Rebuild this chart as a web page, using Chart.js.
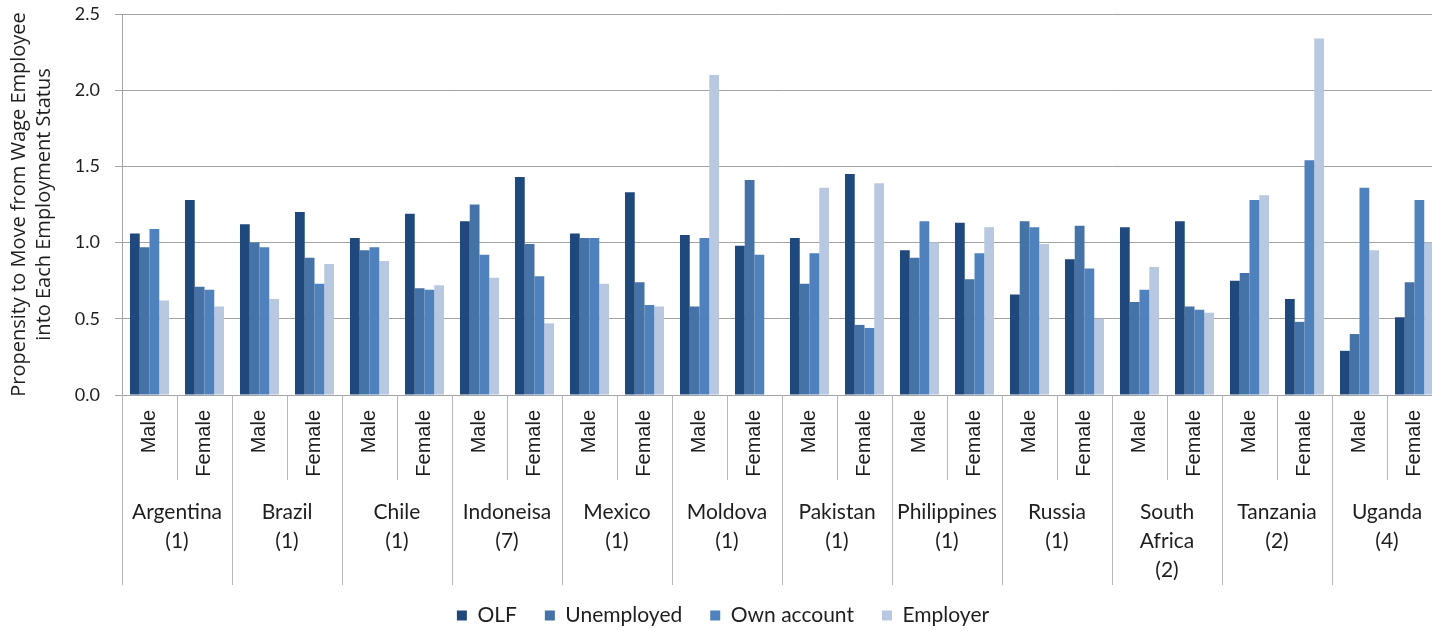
<!DOCTYPE html>
<html>
<head>
<meta charset="utf-8">
<script src="https://cdn.jsdelivr.net/npm/chart.js@4.4.1/dist/chart.umd.min.js"></script>
<style>
  html, body { margin: 0; padding: 0; background: #fff; overflow: hidden; }
  #wrap { position: relative; width: 1456px; height: 631px; }
</style>
</head>
<body>
<div id="wrap"><canvas id="chart"></canvas></div>
<script>
// Countries (number of studies in brackets) and the two genders per country
const countryLabels = [
  ['Argentina', '(1)'], ['Brazil', '(1)'], ['Chile', '(1)'], ['Indoneisa', '(7)'],
  ['Mexico', '(1)'], ['Moldova', '(1)'], ['Pakistan', '(1)'], ['Philippines', '(1)'],
  ['Russia', '(1)'], ['South', 'Africa', '(2)'], ['Tanzania', '(2)'], ['Uganda', '(4)']
];
const genders = ['Male', 'Female'];

// values per category, in order Argentina Male, Argentina Female, Brazil Male, ...
const olf        = [1.06, 1.28, 1.12, 1.20, 1.03, 1.19, 1.14, 1.43, 1.06, 1.33, 1.05, 0.98,
                    1.03, 1.45, 0.95, 1.13, 0.66, 0.89, 1.10, 1.14, 0.75, 0.63, 0.29, 0.51];
const unemployed = [0.97, 0.71, 1.00, 0.90, 0.95, 0.70, 1.25, 0.99, 1.03, 0.74, 0.58, 1.41,
                    0.73, 0.46, 0.90, 0.76, 1.14, 1.11, 0.61, 0.58, 0.80, 0.48, 0.40, 0.74];
const ownAccount = [1.09, 0.69, 0.97, 0.73, 0.97, 0.69, 0.92, 0.78, 1.03, 0.59, 1.03, 0.92,
                    0.93, 0.44, 1.14, 0.93, 1.10, 0.83, 0.69, 0.56, 1.28, 1.54, 1.36, 1.28];
const employer   = [0.62, 0.58, 0.63, 0.86, 0.88, 0.72, 0.77, 0.47, 0.73, 0.58, 2.10, null,
                    1.36, 1.39, 1.00, 1.10, 0.99, 0.50, 0.84, 0.54, 1.31, 2.34, 0.95, 1.00];

const yTicks = [0, 0.5, 1.0, 1.5, 2.0, 2.5];

const labels = [];
countryLabels.forEach(c => genders.forEach(g => labels.push(c.join(' ') + ' ' + g)));

const GRID = '#a3a3a3';
const SEP = '#b8b8b8';
const TEXT = '#1e1e1e';

// draws Male/Female (rotated) + country names and the separator lines under the axis
const groupAxis = {
  id: 'groupAxis',
  afterDraw(chart) {
    const ctx = chart.ctx;
    const x = chart.scales.x;
    const base = x.top;
    const n = labels.length;
    const edge = i => {
      if (i <= 0) return x.left;
      if (i >= n) return x.right;
      return (x.getPixelForValue(i - 1) + x.getPixelForValue(i)) / 2;
    };
    ctx.save();
    ctx.strokeStyle = SEP;
    ctx.lineWidth = 1;
    for (let i = 0; i <= n; i++) {
      const px = Math.round(edge(i)) + 0.5;
      const len = (i % 2 === 0) ? 190 : 85;
      ctx.beginPath();
      ctx.moveTo(px, base);
      ctx.lineTo(px, base + len);
      ctx.stroke();
    }
    ctx.fillStyle = TEXT;
    // gender labels
    ctx.font = '20px "Liberation Sans", Arial, sans-serif';
    ctx.textAlign = 'right';
    ctx.textBaseline = 'middle';
    for (let i = 0; i < n; i++) {
      ctx.save();
      ctx.translate(x.getPixelForValue(i), base + 15);
      ctx.rotate(-Math.PI / 2);
      ctx.fillText(genders[i % 2], 0, 0);
      ctx.restore();
    }
    // country labels
    ctx.font = '21px Lato, sans-serif';
    ctx.textAlign = 'center';
    countryLabels.forEach((lines, k) => {
      const cx = edge(2 * k + 1);
      lines.forEach((t, j) => ctx.fillText(t, cx, base + 117 + j * 29));
    });
    ctx.restore();
  }
};

new Chart(document.getElementById('chart'), {
  type: 'bar',
  data: {
    labels: labels,
    datasets: [
      { label: 'OLF', data: olf, backgroundColor: '#1f497d' },
      { label: 'Unemployed', data: unemployed, backgroundColor: '#4572a7' },
      { label: 'Own account', data: ownAccount, backgroundColor: '#4f81bd' },
      { label: 'Employer', data: employer, backgroundColor: '#b9c8e1' }
    ]
  },
  options: {
    responsive: true,
    maintainAspectRatio: false,
    animation: false,
    layout: { padding: { left: 4, right: 14, top: 14, bottom: -5 } },
    datasets: { bar: { categoryPercentage: 0.71, barPercentage: 1.0 } },
    plugins: {
      legend: {
        position: 'bottom',
        labels: {
          boxWidth: 10, boxHeight: 10, padding: 28, color: TEXT,
          font: { family: 'Lato', size: 21 }
        }
      },
      tooltip: { enabled: false }
    },
    scales: {
      x: {
        grid: { display: false },
        border: { display: true, color: GRID },
        ticks: { display: false },
        afterFit: s => { s.height = 182; }
      },
      y: {
        min: 0, max: 2.5,
        afterBuildTicks: s => { s.ticks = yTicks.map(v => ({ value: v })); },
        afterFit: s => { s.width = 118; s.paddingTop = 0; s.paddingBottom = 0; },
        grid: { color: GRID, tickLength: 7 },
        border: { color: GRID },
        ticks: {
          padding: 15, color: TEXT,
          font: { family: 'Lato', size: 18 },
          callback: v => Number(v).toFixed(1)
        },
        title: {
          display: true,
          text: ['Propensity to Move from Wage Employee', 'into Each Employment Status'],
          color: TEXT,
          font: { family: 'Open Sans', size: 20, lineHeight: 1.25 },
          padding: { top: 3, bottom: 0 }
        }
      }
    }
  },
  plugins: [groupAxis]
});
</script>
</body>
</html>
